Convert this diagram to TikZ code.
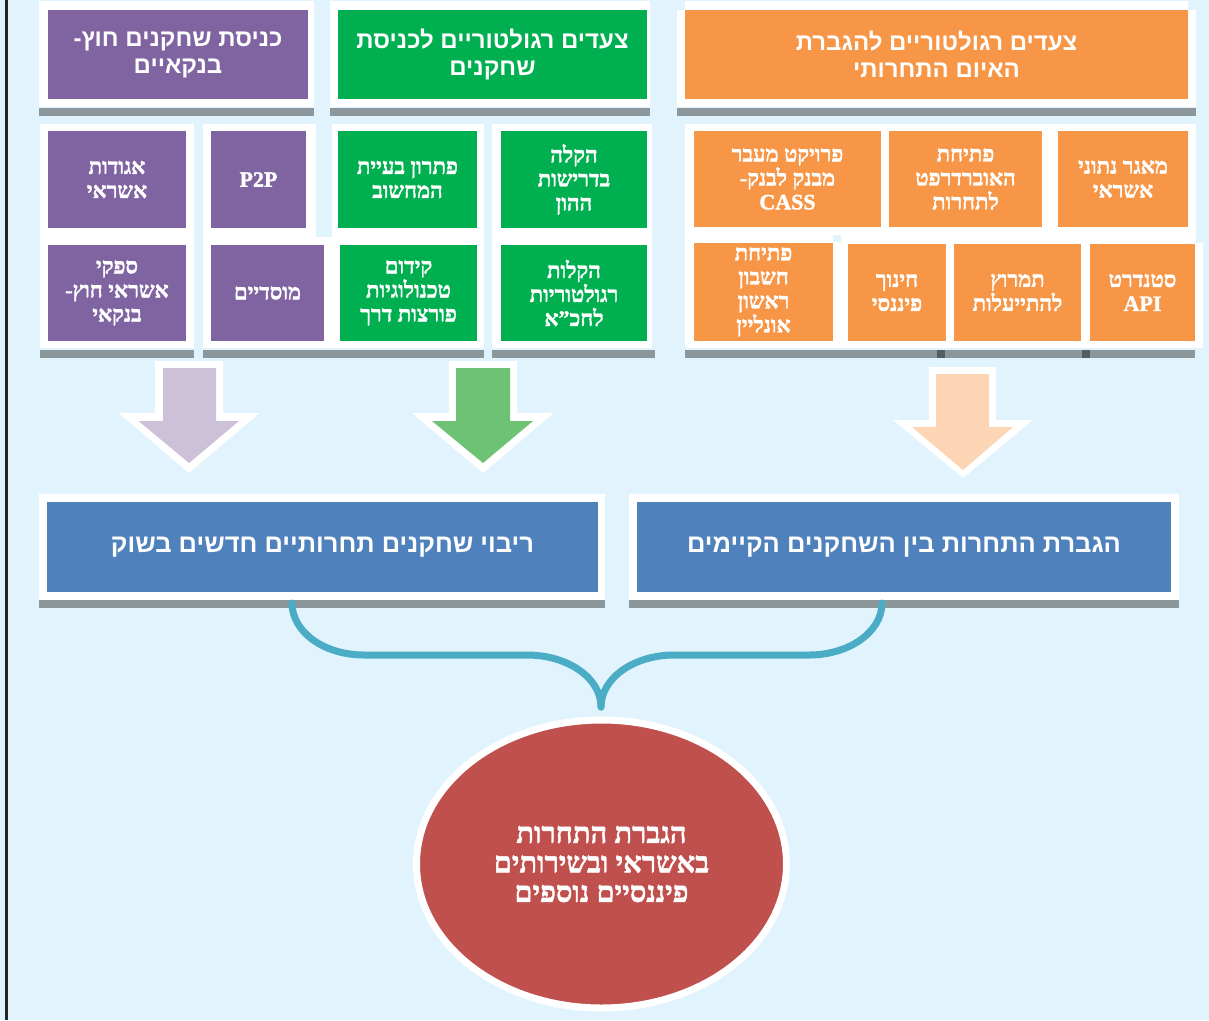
\documentclass[tikz,border=0pt]{standalone}
\usepackage{fontspec}
\usetikzlibrary{shapes.geometric}
\TeXXeTstate=1
\newfontfamily\hsans[Script=Hebrew]{Liberation Sans}
\newfontfamily\hserif[Script=Hebrew, BoldFeatures={FakeBold=1.5}]{Liberation Serif}
\newcommand\hb[1]{\beginR#1\endR}
\definecolor{bgc}{HTML}{E1F3FC}
\definecolor{purp}{HTML}{8064A2}
\definecolor{grn}{HTML}{00B050}
\definecolor{orng}{HTML}{F79646}
\definecolor{gbar}{HTML}{8C979C}
\definecolor{gdark}{HTML}{555F63}
\definecolor{blu}{HTML}{4F81BD}
\definecolor{redc}{HTML}{C0504D}
\definecolor{brc}{HTML}{4BACC6}
\definecolor{apurp}{HTML}{CDC1DA}
\definecolor{agrn}{HTML}{6EC274}
\definecolor{aorng}{HTML}{FCD5B5}
\tikzset{
  hdr/.style={inner sep=0pt, outer sep=0pt, text=white, align=center,
    font=\hsans\bfseries\fontsize{24}{27}\selectfont},
  cell/.style={inner sep=0pt, outer sep=0pt, text=white, align=center,
    font=\hserif\bfseries\fontsize{22}{24}\selectfont},
  bighdr/.style={inner sep=0pt, outer sep=0pt, text=white, align=center,
    font=\hsans\bfseries\fontsize{25.5}{27}\selectfont},
  wf/.style={fill=white},
  sbar/.style={fill=gbar},
  bracestyle/.style={draw=brc, line width=7pt, line cap=round, line join=round},
}
\newcommand\cbox[8]{\node[#2, fill=#3, minimum width={#5-#4}, minimum height={#7-#6}] (#1) at ({(#4+#5)/2},{(#6+#7)/2}) {#8};}
\begin{document}
\begin{tikzpicture}[x=1pt,y=-1pt]
\useasboundingbox (0,0) rectangle (1209,1020);
\fill[bgc] (0,0) rectangle (1209,1020);
\fill[black!85] (5,0) rectangle (7.5,1020);

% ---- header frames
\fill[wf] (39,1) rectangle (314,107);
\fill[wf] (330,1) rectangle (650,107);
\fill[wf] (677,10) rectangle (1196,107);
\fill[wf] (685,1) rectangle (1188,10);
\fill[sbar] (39,108) rectangle (314,116);
\fill[sbar] (330,108) rectangle (650,116);
\fill[sbar] (677,108) rectangle (1196,116);

\cbox{h1}{hdr}{purp}{48}{308}{10}{99}{\hb{כניסת שחקנים חוץ-}\\\hb{בנקאיים}}
\cbox{h2}{hdr}{grn}{338}{647}{10}{99}{\hb{צעדים רגולטוריים לכניסת}\\\hb{שחקנים}}
\cbox{h3}{hdr}{orng}{685}{1188}{10}{99}{\hb{צעדים רגולטוריים להגברת}\\\hb{האיום התחרותי}}

% ---- second tier frames
\fill[wf] (40,124) rectangle (194,348);
\fill[wf] (203,124) rectangle (484,348);
\fill[bgc] (316,124) rectangle (332,237);
\fill[wf] (492,124) rectangle (652,348);
\fill[wf] (685,124) rectangle (1196,348);
\fill[wf] (1196,243) rectangle (1203,348);
\fill[bgc] (833,235) rectangle (841,242);
\fill[sbar] (40,350) rectangle (194,358);
\fill[sbar] (203,350) rectangle (484,358);
\fill[sbar] (492,350) rectangle (655,358);
\fill[sbar] (685,350) rectangle (1195,358);
\fill[gdark] (937,350) rectangle (945,358);
\fill[gdark] (1082,350) rectangle (1090,358);

\cbox{b1}{cell}{purp}{48}{186}{131}{228}{\hb{אגודות}\\\hb{אשראי}}
\cbox{b2}{cell}{purp}{211}{306}{131}{228}{P2P}
\cbox{b3}{cell}{grn}{338}{477}{131}{228}{\hb{פתרון בעיית}\\\hb{המחשוב}}
\cbox{b4}{cell}{grn}{501}{647}{131}{228}{\hb{הקלה}\\\hb{בדרישות}\\\hb{ההון}}
\cbox{b5}{cell}{purp}{48}{186}{245}{341}{\hb{ספקי}\\\hb{אשראי חוץ-}\\\hb{בנקאי}}
\cbox{b6}{cell}{purp}{211}{324}{245}{341}{\hb{מוסדיים}}
\cbox{b7}{cell}{grn}{340}{477}{245}{341}{\hb{קידום}\\\hb{טכנולוגיות}\\\hb{פורצות דרך}}
\cbox{b8}{cell}{grn}{501}{647}{245}{341}{\hb{הקלות}\\\hb{רגולטוריות}\\\hb{לחכ”א}}

\cbox{o1}{cell}{orng}{694}{881}{131}{227}{\hb{פרויקט מעבר}\\\hb{מבנק לבנק-}\\CASS}
\cbox{o2}{cell}{orng}{889}{1042}{131}{227}{\hb{פתיחת}\\\hb{האוברדרפט}\\\hb{לתחרות}}
\cbox{o3}{cell}{orng}{1058}{1188}{131}{227}{\hb{מאגר נתוני}\\\hb{אשראי}}
\cbox{o4}{cell}{orng}{694}{833}{243}{341}{\hb{פתיחת}\\\hb{חשבון}\\\hb{ראשון}\\\hb{אונליין}}
\cbox{o5}{cell}{orng}{848}{946}{244}{341}{\hb{חינוך}\\\hb{פיננסי}}
\cbox{o6}{cell}{orng}{954}{1081}{244}{341}{\hb{תמרוץ}\\\hb{להתייעלות}}
\cbox{o7}{cell}{orng}{1090}{1195}{244}{341}{\hb{סטנדרט}\\API}

% ---- block arrows
\fill[white] (155,361) -- (223,361) -- (223,413) -- (259.6,413) -- (189,473) -- (118.6,413) -- (155,413) -- cycle;
\fill[apurp] (163,368) -- (216,368) -- (216,421) -- (239,421) -- (189,463) -- (138.6,421) -- (163,421) -- cycle;
\fill[white] (449,361) -- (517,361) -- (517,413) -- (553.6,413) -- (483,473) -- (412,413) -- (449,413) -- cycle;
\fill[agrn] (456,368) -- (510,368) -- (510,421) -- (533,421) -- (483,463) -- (432,421) -- (456,421) -- cycle;
\fill[white] (929,367) -- (996,367) -- (996,420) -- (1033,420) -- (963,478) -- (893,420) -- (929,420) -- cycle;
\fill[aorng] (936,374) -- (989,374) -- (989,427) -- (1013,427) -- (963,470) -- (912,427) -- (936,427) -- cycle;

% ---- blue boxes
\fill[wf] (39,494) rectangle (605,600);
\fill[sbar] (39,600) rectangle (605,608);
\fill[wf] (629,494) rectangle (1179,600);
\fill[sbar] (629,600) rectangle (1179,608);
\cbox{lb}{bighdr}{blu}{47}{598}{502}{592}{\hb{ריבוי שחקנים תחרותיים חדשים בשוק}}
\cbox{rb}{bighdr}{blu}{637}{1171}{502}{592}{\hb{הגברת התחרות בין השחקנים הקיימים}}

% ---- result ellipse
\node[ellipse, fill=redc, draw=white, line width=7pt, inner sep=0pt,
  minimum width=370, minimum height=288, text=white, align=center,
  font=\hserif\bfseries\fontsize{29}{29.5}\selectfont] (res) at (601.5,864)
  {\hb{הגברת התחרות}\\\hb{באשראי ובשירותים}\\\hb{פיננסיים נוספים}};

% ---- brace connector
\coordinate (bl) at (292,603);
\coordinate (br) at (882,603);
\coordinate (bt) at (601,707);
\draw[bracestyle] (bl) .. controls (292,632) and (324,655) .. (364,655) -- (527,655)
  .. controls (568,655) and (601,678) .. (bt);
\draw[bracestyle] (br) .. controls (882,632) and (849,655) .. (809,655) -- (674,655)
  .. controls (634,655) and (601,678) .. (bt);
\end{tikzpicture}
\end{document}
